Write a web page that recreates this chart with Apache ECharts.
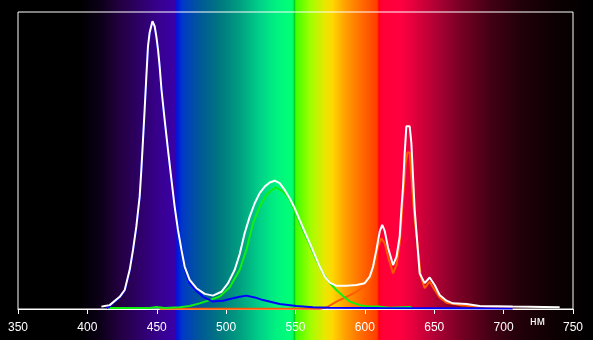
<!DOCTYPE html>
<html>
<head>
<meta charset="utf-8">
<script src="https://cdn.jsdelivr.net/npm/echarts@6/dist/echarts.min.js"></script>
<style>
html,body{margin:0;padding:0;background:#000;}
#c{width:593px;height:340px;}
</style>
</head>
<body>
<div id="c"></div>
<script>
// wavelength (nm) / relative intensity (% of plot height)
const whiteWl = [410.1,412.5,416.1,423.3,426.9,430.5,432.9,435.3,437.7,438.9,440.1,441.3,442.5,443.7,444.9,446.9,448.5,449.7,450.9,452.1,453.4,455.7,458.1,460.6,462.9,465.3,467.8,470.1,473.7,478.6,484.6,490.5,496.6,501.4,506.2,509.8,513.4,517.0,520.6,524.2,527.8,531.4,535.0,538.6,542.2,545.8,549.4,553.0,556.6,560.3,563.9,567.5,571.1,574.7,579.5,586.7,593.9,599.9,603.5,605.9,608.3,610.7,612.5,614.3,616.7,620.3,622.8,625.1,626.3,627.5,628.7,629.9,632.3,633.5,634.7,635.9,637.6,639.5,643.1,646.7,650.3,653.9,658.8,663.5,673.2,682.8,706.5,740.4];
const whiteVal = [0.8,1.0,1.3,4.1,6.4,13.2,19.9,27.8,37.9,46.9,57.0,67.4,78.3,88.5,93.1,96.9,95.2,91.8,87.4,81.7,73.9,63.7,53.6,43.5,34.5,26.6,19.9,14.3,9.8,7.0,5.1,4.5,5.8,8.7,13.2,18.5,25.6,31.1,35.6,39.0,41.2,42.6,43.2,42.4,40.1,37.3,34.0,30.0,26.1,22.2,18.2,14.3,10.9,8.9,7.8,7.8,8.1,8.7,10.9,14.3,19.9,26.1,28.3,26.3,20.6,14.8,17.6,24.4,33.4,41.2,52.5,61.5,61.5,55.9,44.6,33.4,23.3,12.0,8.7,10.6,8.1,4.7,2.8,1.9,1.7,1.0,0.8,0.6];

const blueWl = [413.9,416.1,423.3,426.9,430.5,432.9,435.3,437.7,438.9,440.1,441.3,442.5,443.7,444.9,446.9,448.5,449.7,450.9,452.1,453.4,455.7,458.1,460.6,462.9,465.3,467.8,470.1,473.7,478.6,483.4,490.5,497.7,504.9,509.8,514.6,520.6,526.6,538.6,550.6,562.6,574.7,610.7,706.5];
const blueVal = [0.3,1.0,3.9,6.1,12.9,19.6,27.5,37.6,46.6,56.7,67.1,78.0,88.2,92.8,96.6,94.9,91.5,87.1,81.4,73.6,63.4,53.3,43.2,34.2,26.2,19.4,13.6,8.7,6.1,4.1,2.5,2.8,3.6,4.1,4.5,3.9,3.0,1.7,1.0,0.6,0.4,0.3,0.2];

const greenWl = [416.1,445.0,449.9,455.7,466.5,473.7,480.9,488.2,495.4,502.6,509.8,514.6,519.4,524.2,529.0,533.8,536.2,541.0,545.8,550.6,555.4,560.3,565.1,569.8,574.7,579.5,584.2,589.1,596.3,603.5,610.7,617.9,632.3,634.5];
const greenVal = [0.3,0.3,0.7,0.3,0.6,1.0,1.9,3.0,4.2,7.3,13.2,19.9,28.9,34.5,38.4,40.4,40.9,39.6,36.8,31.7,26.6,21.6,16.5,12.0,8.7,6.4,4.4,2.5,1.3,0.8,0.8,0.4,0.7,0.2];

const redWl = [452.1,553.0,567.5,572.3,579.5,586.7,593.9,601.1,604.7,607.1,609.5,611.9,614.3,616.7,620.3,622.8,625.1,626.3,627.5,629.4,630.7,632.3,633.5,634.7,635.9,638.3,640.3,643.1,646.7,650.3,653.9,658.8,668.4,680.4,697.2,706.5];
const redVal = [0.1,0.1,0.1,0.5,2.5,4.1,5.8,8.1,10.4,15.4,21.0,23.8,22.2,17.6,12.0,14.8,22.2,30.0,37.9,49.1,52.7,52.7,44.6,36.8,30.0,19.9,10.9,7.0,9.2,6.4,3.9,2.1,1.3,0.8,0.5,0.3];

const xTicks = [350,400,450,500,550,600,650,700,750];
const unitLabel = 'нм';

function pairs(a,b){return a.map((v,i)=>[v,b[i]]);}

const chart = echarts.init(document.getElementById('c'));
const bg = new echarts.graphic.LinearGradient(0,0,1,0,[
 {offset:0,color:'#000000'},{offset:0.135,color:'#000000'},{offset:0.169,color:'#0c0018'},
 {offset:0.202,color:'#230040'},{offset:0.236,color:'#2e0068'},{offset:0.270,color:'#380090'},
 {offset:0.295,color:'#3a00a8'},{offset:0.2985,color:'#0014e0'},{offset:0.307,color:'#0038c8'},
 {offset:0.337,color:'#005898'},{offset:0.371,color:'#007880'},{offset:0.405,color:'#00a080'},
 {offset:0.438,color:'#00d088'},{offset:0.464,color:'#00f080'},{offset:0.489,color:'#00ff78'},
 {offset:0.494,color:'#00ff60'},{offset:0.4966,color:'#00d020'},{offset:0.499,color:'#40ff00'},
 {offset:0.523,color:'#a0ff00'},{offset:0.548,color:'#e8e800'},{offset:0.560,color:'#ffd800'},
 {offset:0.582,color:'#ffa000'},{offset:0.607,color:'#ff7000'},{offset:0.636,color:'#ff3c00'},
 {offset:0.639,color:'#ff0010'},{offset:0.6425,color:'#ff0035'},{offset:0.675,color:'#ff0040'},
 {offset:0.700,color:'#e0003c'},{offset:0.734,color:'#b00035'},{offset:0.776,color:'#780024'},
 {offset:0.826,color:'#440014'},{offset:0.877,color:'#22000a'},{offset:0.936,color:'#0c0002'},
 {offset:1,color:'#000000'}
], false);

const lineBase = {type:'line',showSymbol:false,symbol:'none',smooth:false,animation:false};
chart.setOption({
  backgroundColor: bg,
  animation:false,
  grid:{left:18,right:20,top:12,bottom:31,show:true,borderColor:'#ffffff',borderWidth:1,backgroundColor:'transparent'},
  xAxis:{type:'value',min:350,max:750,interval:50,
    axisLine:{show:true,lineStyle:{color:'#ffffff',width:1}},
    axisTick:{show:true,inside:false,length:5,lineStyle:{color:'#ffffff',width:1}},
    axisLabel:{color:'#ffffff',fontSize:12,fontFamily:'Liberation Sans, Arial, sans-serif',margin:13,
      formatter:v=>xTicks.indexOf(v)>=0?String(v):''},
    splitLine:{show:false}},
  yAxis:{type:'value',min:0,max:100,show:false,splitLine:{show:false}},
  graphic:[{type:'text',left:530,top:316,style:{text:unitLabel,fill:'#ffffff',font:'12px "Liberation Sans", Arial, sans-serif'}}],
  series:[
    Object.assign({},lineBase,{name:'R',data:pairs(redWl,redVal),lineStyle:{color:'#ff5a00',width:2},z:2}),
    Object.assign({},lineBase,{name:'G',data:pairs(greenWl,greenVal),lineStyle:{color:'#10f010',width:2},z:3}),
    Object.assign({},lineBase,{name:'B',data:pairs(blueWl,blueVal),lineStyle:{color:'#0000ff',width:2},z:4}),
    Object.assign({},lineBase,{name:'W',data:pairs(whiteWl,whiteVal),lineStyle:{color:'#ffffff',width:2},z:5})
  ]
});
</script>
</body>
</html>
